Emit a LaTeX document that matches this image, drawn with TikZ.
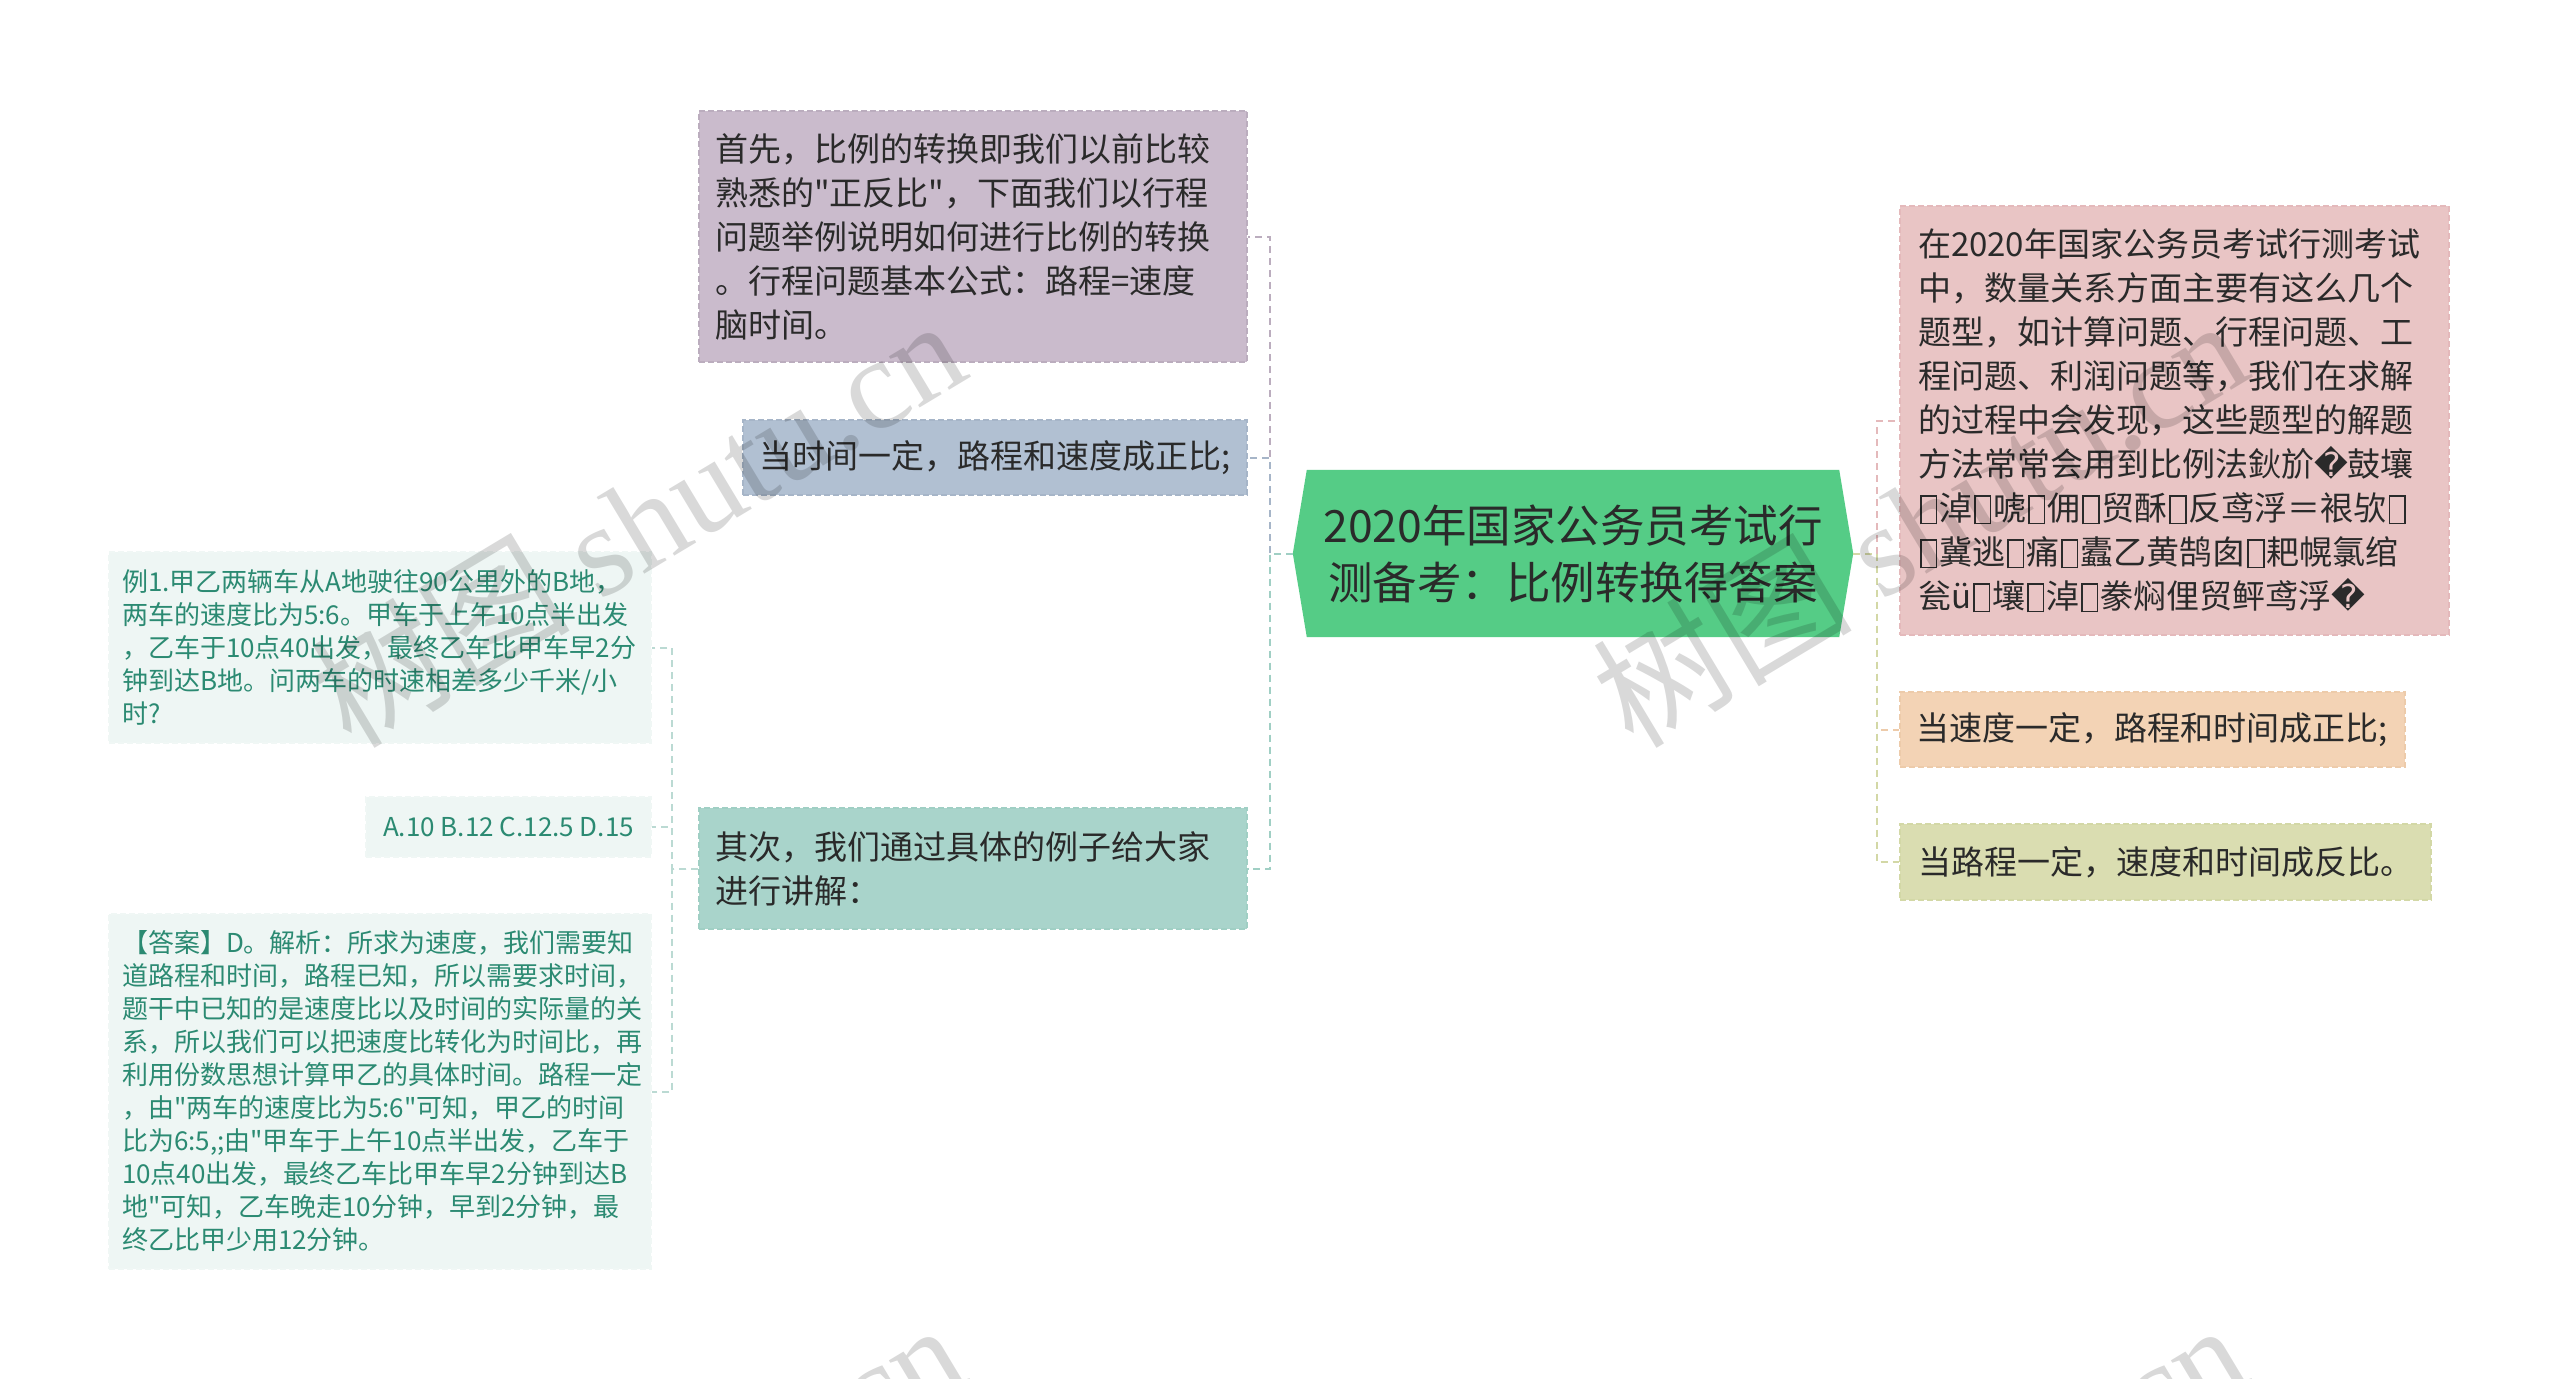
\documentclass[tikz,border=0pt]{standalone}
\usepackage{fontspec}
\newfontfamily\cjk{Noto Sans CJK SC}
\newfontfamily\djv{DejaVu Sans}
\newfontfamily\wmserif{Liberation Serif}
\usetikzlibrary{backgrounds}
\definecolor{txt}{HTML}{2A2A2A}
\definecolor{ltxt}{HTML}{2B8A72}
\definecolor{cgreen}{HTML}{55CC86}
\definecolor{pfill}{HTML}{CABBCC}
\definecolor{pline}{HTML}{BBADBE}
\definecolor{bfill}{HTML}{B1C0D2}
\definecolor{bline}{HTML}{A6B5C8}
\definecolor{tfill}{HTML}{A9D4CB}
\definecolor{tline}{HTML}{A0CFC4}
\definecolor{lfill}{HTML}{EEF6F4}
\definecolor{lline}{HTML}{BBDAD3}
\definecolor{rfill}{HTML}{E9C5C5}
\definecolor{rline}{HTML}{E4B9BB}
\definecolor{ofill}{HTML}{F3D3B5}
\definecolor{oline}{HTML}{EDCBAA}
\definecolor{gfill}{HTML}{DADDB1}
\definecolor{gline}{HTML}{D3D8A6}
\newcommand\tofu{\leavevmode\lower0.12em\hbox{\kern0.06em\vrule width0.05em\vbox{\hrule height0.05em width0.42em\vskip0.78em\hrule height0.05em}\vrule width0.05em\kern0.06em}}
\newcommand\rep{{\djv �}}
\begin{document}
\begin{tikzpicture}[x=1pt,y=-1pt,
  boxbase/.style={dash pattern=on 6pt off 3pt, line width=1.3pt, inner ysep=0pt, text=txt, align=left},
  bigtext/.style={font=\cjk\fontsize{33}{44}\selectfont},
  smalltext/.style={font=\cjk\fontsize{26}{33}\selectfont, text=ltxt},
  conn/.style={dash pattern=on 7pt off 5pt, line width=2pt},
  wm/.style={text=black, text opacity=0.15, font=\cjk\fontsize{130}{130}\selectfont, inner sep=0pt}]
\useasboundingbox (0,0) rectangle (2560,1379);

% central node
\node[font=\cjk\fontsize{44.5}{57}\selectfont, text=txt, align=center, minimum width=560pt, minimum height=167pt, inner sep=0pt] (c) at (1573,553.5) {2020年国家公务员考试行\\测备考：比例转换得答案};

% left branch
\node[boxbase, bigtext, draw=pline, fill=pfill, text width=516pt, inner xsep=16pt, minimum height=251pt] (p1) at (973,236.5)
 {首先，比例的转换即我们以前比较\\熟悉的"正反比"，下面我们以行程\\问题举例说明如何进行比例的转换\\。行程问题基本公式：路程=速度\\脑时间。};
\node[boxbase, bigtext, draw=bline, fill=bfill, minimum width=504pt, minimum height=75pt, inner xsep=0pt] (p2) at (995,457.5)
 {当时间一定，路程和速度成正比;};
\node[boxbase, bigtext, draw=tline, fill=tfill, text width=516pt, inner xsep=16pt, minimum height=121pt] (p3) at (973,868.5)
 {其次，我们通过具体的例子给大家\\进行讲解：};

% left-left
\node[boxbase, smalltext, draw=lfill!90!ltxt!40, fill=lfill, text width=516pt, inner xsep=13pt, minimum height=191pt] (l1) at (380,647.5)
 {例1.甲乙两辆车从A地驶往90公里外的B地，\\两车的速度比为5:6。甲车于上午10点半出发\\，乙车于10点40出发，最终乙车比甲车早2分\\钟到达B地。问两车的时速相差多少千米/小\\时?};
\node[boxbase, smalltext, draw=lfill!90!ltxt!40, fill=lfill, minimum width=285pt, minimum height=60pt, inner xsep=0pt] (l2) at (508.5,827)
 {A.10 B.12 C.12.5 D.15};
\node[boxbase, smalltext, draw=lfill!90!ltxt!40, fill=lfill, text width=516pt, inner xsep=13pt, minimum height=355pt] (l3) at (380,1091.5)
 {【答案】D。解析：所求为速度，我们需要知\\道路程和时间，路程已知，所以需要求时间，\\题干中已知的是速度比以及时间的实际量的关\\系，所以我们可以把速度比转化为时间比，再\\利用份数思想计算甲乙的具体时间。路程一定\\，由"两车的速度比为5:6"可知，甲乙的时间\\比为6:5,;由"甲车于上午10点半出发，乙车于\\10点40出发，最终乙车比甲车早2分钟到达B\\地"可知，乙车晚走10分钟，早到2分钟，最\\终乙比甲少用12分钟。};

% right branch
\node[boxbase, bigtext, draw=rline, fill=rfill, text width=513pt, inner xsep=18pt, minimum height=429pt] (r1) at (2174.5,420.5)
 {在2020年国家公务员考试行测考试\\中，数量关系方面主要有这么几个\\题型，如计算问题、行程问题、工\\程问题、利润问题等，我们在求解\\的过程中会发现，这些题型的解题\\方法常常会用到比例法鈥斺\rep 鼓壤\\\tofu 淖\tofu 唬\tofu 佣\tofu 贸酥\tofu 反鸢浮＝裉欤\tofu\\\tofu 冀逃\tofu 痛\tofu 蠹乙黄鹄囱\tofu 耙幌氯绾\\瓮ü\tofu 壤\tofu 淖\tofu 豢焖俚贸鲆鸢浮\rep};
\node[boxbase, bigtext, draw=oline, fill=ofill, minimum width=505pt, minimum height=75pt, inner xsep=0pt] (r2) at (2152.5,729.5)
 {当速度一定，路程和时间成正比;};
\node[boxbase, bigtext, draw=gline, fill=gfill, minimum width=531pt, minimum height=76pt, inner xsep=0pt] (r3) at (2165.5,862)
 {当路程一定，速度和时间成反比。};

\begin{scope}[on background layer]
\fill[white] (0,0) rectangle (2560,1379);
\fill[cgreen] (c.west) -- ([xshift=14pt]c.north west) -- ([xshift=-14pt]c.north east) -- (c.east)
  -- ([xshift=-14pt]c.south east) -- ([xshift=14pt]c.south west) -- cycle;
\end{scope}

% connectors
\draw[conn, draw=pline] (c.west) -- ++(-23,0) |- (p1.east);
\draw[conn, draw=bline] (c.west) -- ++(-23,0) |- (p2.east);
\draw[conn, draw=tline] (c.west) -- ++(-23,0) |- (p3.east);
\draw[conn, draw=lline] (p3.west) -- ++(-26,0) |- (l1.east);
\draw[conn, draw=lline] (p3.west) -- ++(-26,0) |- (l2.east);
\draw[conn, draw=lline] (p3.west) -- ++(-26,0) |- (l3.east);
\draw[conn, draw=rline] (c.east) -- ++(24,0) |- (r1.west);
\draw[conn, draw=oline] (c.east) -- ++(24,0) |- (r2.west);
\draw[conn, draw=gline] (c.east) -- ++(24,0) |- (r3.west);

% watermarks
\begin{scope}
\clip (0,0) rectangle (2560,1379);
\node[wm, rotate=31] (w1) at (637,521) {树图 {\wmserif shutu.cn}};
\node[wm, rotate=31] (w2) at (1919,521) {树图 {\wmserif shutu.cn}};
\node[wm, rotate=31] (w3) at (637,1525) {树图 {\wmserif shutu.cn}};
\node[wm, rotate=31] (w4) at (1919,1525) {树图 {\wmserif shutu.cn}};
\end{scope}
\end{tikzpicture}
\end{document}
